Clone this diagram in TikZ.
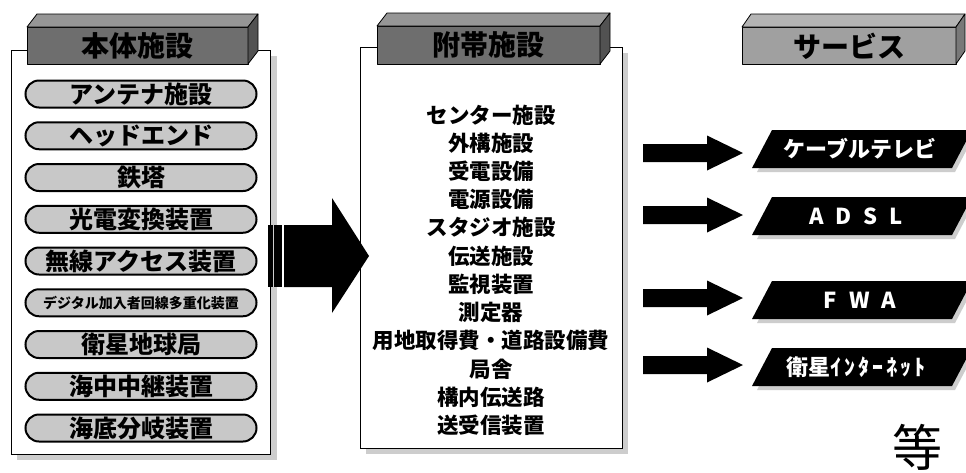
\documentclass[tikz,border=0pt]{standalone}
\usepackage{fontspec}
\setmainfont{Noto Sans CJK JP}
\definecolor{hdrA}{RGB}{110,110,110}
\definecolor{hdrAtop}{RGB}{150,150,150}
\definecolor{hdrB}{RGB}{160,160,160}
\definecolor{hdrBtop}{RGB}{180,180,180}
\definecolor{pillgray}{RGB}{200,200,200}
\definecolor{shadowgray}{RGB}{205,205,205}
\newcommand\mkhdr[7]{%
  \filldraw[facefill,fill=#5] (#1,#2) rectangle (#3,#4);
  \filldraw[facefill,fill=#6] (#1,#2) -- (#1+#7,#2-13) -- (#3+#7,#2-13) -- (#3,#2) -- cycle;
  \filldraw[facefill,fill=#5!75!black] (#3,#2) -- (#3+#7,#2-13) -- (#3+#7,#4-13) -- (#3,#4) -- cycle;
}
\newcommand\mkpara[2]{%
  \fill[shadowgray] (777,#1+4) -- (975,#1+4) -- (955,#2+4) -- (757,#2+4) -- cycle;
  \fill[black] (772,#1) -- (972,#1) -- (952,#2) -- (752,#2) -- cycle;
}
\newcommand\mkarrow[1]{%
  \fill[black] (643,#1-9) -- (707,#1-9) -- (707,#1-17.5) -- (743,#1) -- (707,#1+17.5) -- (707,#1+9) -- (643,#1+9) -- cycle;
}
\begin{document}
\begin{tikzpicture}[x=1pt,y=-1pt,
  facefill/.style={draw=black, line width=0.8pt, line join=round},
  pill/.style={draw, line width=2pt, fill=pillgray, rounded corners=13.5pt,
    minimum width=231pt, minimum height=27pt, inner sep=0pt,
    font=\fontsize{24}{24}\selectfont\bfseries},
  hdrtext/.style={inner sep=0pt, font=\fontsize{28}{28}\selectfont\bfseries},
  item/.style={inner sep=0pt, font=\fontsize{21.5}{21.5}\selectfont\bfseries},
  svc/.style={inner sep=0pt, text=white, font=\fontsize{22}{22}\selectfont\bfseries},
  panel/.style={draw=black, line width=0.9pt, fill=white}
]
\useasboundingbox (0,0) rectangle (966,472);
\fill[white] (0,0) rectangle (966,472);

% ---------- left panel ----------
\fill[shadowgray] (17,56) rectangle (277,460);
\filldraw[panel] (11,50) rectangle (270,454);
\mkhdr{27}{27}{248}{64}{hdrA}{hdrAtop}{10}
\node[hdrtext] (h1) at (137.5,46) {本体施設};

\node[pill] (p1) at (141,94) {アンテナ施設};
\node[pill] (p2) at (141,135.75) {ヘッドエンド};
\node[pill] (p3) at (141,177.5) {鉄塔};
\node[pill] (p4) at (141,219.25) {光電変換装置};
\node[pill] (p5) at (141,261) {無線アクセス装置};
\node[pill, font=\fontsize{14}{14}\selectfont\bfseries] (p6) at (141,302.75) {デジタル加入者回線多重化装置};
\node[pill] (p7) at (141,344.5) {衛星地球局};
\node[pill] (p8) at (141,386.25) {海中中継装置};
\node[pill] (p9) at (141,428) {海底分岐装置};

% ---------- middle panel ----------
\fill[shadowgray] (366,53) rectangle (628,454);
\filldraw[panel] (360,47) rectangle (622,448);
\mkhdr{377}{26}{600}{64}{hdrA}{hdrAtop}{10}
\node[hdrtext] (h2) at (488.5,45) {附帯施設};

\node[item] (m1) at (491,115) {センター施設};
\node[item] (m2) at (491,143.2) {外構施設};
\node[item] (m3) at (491,171.4) {受電設備};
\node[item] (m4) at (491,199.6) {電源設備};
\node[item] (m5) at (491,227.8) {スタジオ施設};
\node[item] (m6) at (491,256) {伝送施設};
\node[item] (m7) at (491,284.2) {監視装置};
\node[item] (m8) at (491,312.4) {測定器};
\node[item] (m9) at (491,340.6) {用地取得費・道路設備費};
\node[item] (m10) at (491,368.8) {局舎};
\node[item] (m11) at (491,397) {構内伝送路};
\node[item] (m12) at (491,425.2) {送受信装置};

% ---------- big arrow ----------
\fill[black] (268,225) rectangle (272.5,287);
\fill[black] (274,225) rectangle (281.5,287);
\fill[black] (284,225) -- (332,225) -- (332,198) -- (369,256) -- (332,313) -- (332,287) -- (284,287) -- cycle;

% ---------- right: services ----------
\mkhdr{742}{27}{956}{64}{hdrB}{hdrBtop}{9}
\node[hdrtext] (h3) at (849,46) {サービス};

\mkpara{130}{168}
\mkpara{197}{235}
\mkpara{281}{319}
\mkpara{348}{386}
\mkarrow{153}
\mkarrow{215}
\mkarrow{298}
\mkarrow{365}

\node[svc] (s1) at (860,149) {ケーブルテレビ};
\node[svc] (s2) at (856,216) {A\kern12pt D\kern12pt S\kern12pt L};
\node[svc] (s3) at (860,300) {F\kern12pt W\kern12pt A};
\node[svc] (s4) at (856,367) {衛星{\addfontfeature{LetterSpace=14}ｲﾝﾀｰﾈｯﾄ}};

\node[inner sep=0pt, font=\fontsize{50}{50}\selectfont] (etc) at (917,447) {等};
\end{tikzpicture}
\end{document}
